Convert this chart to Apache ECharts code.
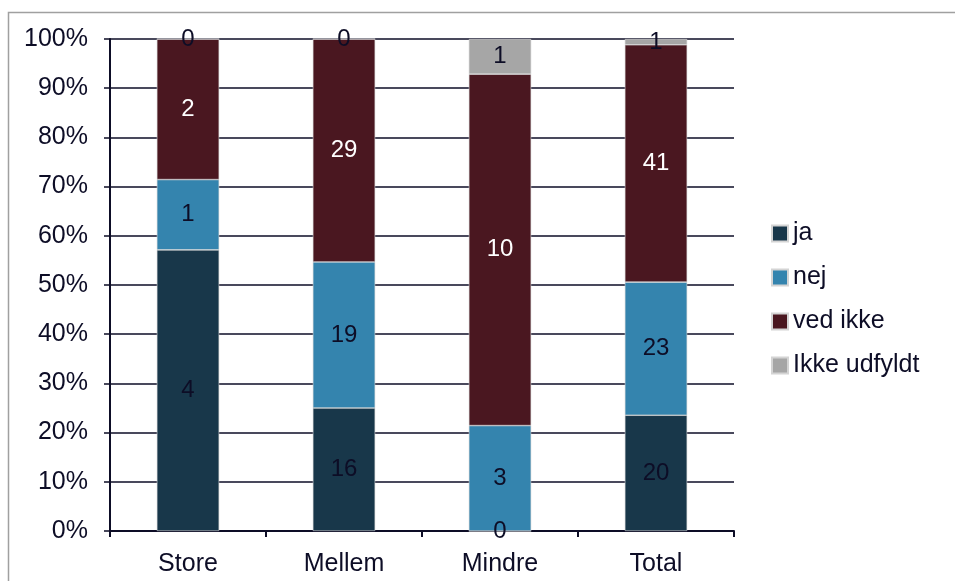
<!DOCTYPE html>
<html>
<head>
<meta charset="utf-8">
<script src="https://cdn.jsdelivr.net/npm/echarts@6/dist/echarts.min.js"></script>
<style>
  html, body { margin: 0; padding: 0; background: #ffffff; }
  #chart { width: 955px; height: 581px; }
</style>
</head>
<body>
<div id="chart"></div>
<script>
// Categories and answer counts per group
const categories = ['Store', 'Mellem', 'Mindre', 'Total'];
const seriesNames = ['ja', 'nej', 'ved ikke', 'Ikke udfyldt'];
const ja = [4, 16, 0, 20];
const nej = [1, 19, 3, 23];
const vedIkke = [2, 29, 10, 41];
const ikkeUdfyldt = [0, 0, 1, 1];
const yTicks = ['0%', '10%', '20%', '30%', '40%', '50%', '60%', '70%', '80%', '90%', '100%'];

const counts = [ja, nej, vedIkke, ikkeUdfyldt];
const colors = ['#18374a', '#3484ae', '#4a1720', '#a6a6a6'];
const labelColors = ['#0d0d26', '#0d0d26', '#ffffff', '#0d0d26'];
const textColor = '#0d0d26';
const fontFamily = '"Liberation Sans", Arial, sans-serif';

// each bar shows its group's share of the column total; labels show the counts
const totals = categories.map((_, i) => counts.reduce((s, arr) => s + arr[i], 0));

const series = seriesNames.map((name, k) => ({
  name: name,
  type: 'bar',
  stack: 'share',
  barWidth: '40%',
  itemStyle: { color: colors[k], borderColor: '#d4d4d4', borderWidth: 0.6 },
  label: {
    show: true,
    position: 'inside',
    color: labelColors[k],
    fontSize: 24,
    fontFamily: fontFamily,
    formatter: p => String(counts[k][p.dataIndex])
  },
  data: counts[k].map((v, i) => v / totals[i] * 100)
}));

const chart = echarts.init(document.getElementById('chart'), null, { renderer: 'canvas' });
chart.setOption({
  animation: false,
  backgroundColor: '#ffffff',
  textStyle: { fontFamily: fontFamily },
  graphic: [{
    type: 'rect',
    shape: { x: 8.5, y: 12.5, width: 1200, height: 1200 },
    style: { fill: 'none', stroke: '#a0a0a0', lineWidth: 1.5 },
    silent: true
  }],
  grid: { left: 110, right: 221, top: 39, bottom: 50, containLabel: false },
  legend: {
    orient: 'vertical',
    left: 771,
    top: 221,
    padding: 0,
    itemWidth: 16,
    itemHeight: 16,
    itemGap: 19,
    icon: 'rect',
    textStyle: { color: textColor, fontSize: 25, lineHeight: 16, fontFamily: fontFamily },
    data: seriesNames
  },
  xAxis: {
    type: 'category',
    data: categories,
    axisLine: { lineStyle: { color: textColor, width: 2 } },
    axisTick: { show: true, length: 6, lineStyle: { color: textColor, width: 2 } },
    axisLabel: { color: textColor, fontSize: 25, fontFamily: fontFamily, margin: 21 }
  },
  yAxis: {
    type: 'value',
    min: 0,
    max: 100,
    interval: 10,
    axisLine: { show: true, lineStyle: { color: textColor, width: 2 } },
    axisTick: { show: true, length: 6, lineStyle: { color: textColor, width: 1.5 } },
    splitLine: { lineStyle: { color: textColor, width: 1.5 } },
    axisLabel: {
      color: textColor,
      fontSize: 25,
      fontFamily: fontFamily,
      margin: 22,
      formatter: v => yTicks[Math.round(v / 10)]
    }
  },
  series: series
});
</script>
</body>
</html>
